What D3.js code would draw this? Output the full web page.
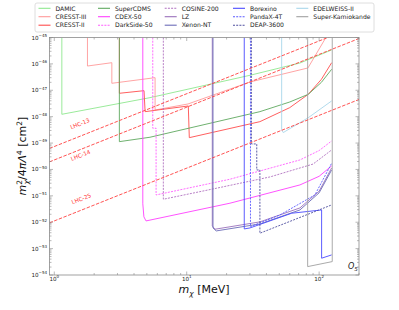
<!DOCTYPE html>
<html><head><meta charset="utf-8">
<script src="https://cdn.jsdelivr.net/npm/d3@7"></script>
<style>body{margin:0;background:#fff}svg{display:block;font-family:"DejaVu Sans",sans-serif}</style>
</head><body>
<svg id="c" width="399" height="310"></svg>
<script>
// ---- data: [mass (MeV), m^2/4piLambda^4 (cm^2)] ----
const DAMIC = [[1.14,1e-45],[1.14,1.23e-48],[5.28,5.25e-48],[30.05,3.70e-47],[71.6,1.08e-46],[124.3,3.37e-46]];
const CRESST_III = [[1.78,1e-45],[1.78,8.3e-47],[2.72,1.11e-46],[2.72,1.84e-47],[5.77,3.0e-47],[5.77,1.79e-48],[10.23,3.03e-48],[30.05,2.06e-47],[82.3,7.0e-47],[112.5,1e-45]];
const CRESST_II = [[3.10,1e-45],[3.10,7.69e-48],[4.76,9.66e-48],[4.85,1.55e-48],[10.28,2.54e-48],[10.46,1.60e-49],[35.7,6.47e-49],[60,2.2e-48],[82.8,7.05e-48],[104,2.6e-47],[124.3,1.11e-46]];
const SuperCDMS = [[3.10,1e-45],[3.10,1.13e-49],[5.28,1.66e-49],[35.7,1.55e-48],[60,3.6e-48],[82.8,7.05e-48],[104,2.0e-47],[124.3,6.24e-47]];
const CDEX_50 = [[4.66,1e-45],[4.66,5e-52],[4.75,1.6e-52],[4.93,1.12e-52],[21.2,5.25e-52],[71.6,2.59e-51],[100,5.5e-51],[124.3,1.36e-50]];
const DarkSide_50 = [[5.54,1e-45],[5.54,3.64e-49],[5.87,3.64e-49],[5.87,1.08e-51],[21.2,4.26e-51],[71.6,2.29e-50],[100,5.2e-50],[124.3,1.20e-49]];
const COSINE_200 = [[6.66,1e-45],[6.66,7.43e-52],[15.44,1.78e-51],[42.5,5.2e-51],[90,1.6e-50],[124.3,5.48e-50]];
const LZ = [[15.6,1e-45],[15.6,7.24e-53],[16.35,5.43e-53],[35.7,1.03e-52],[71.6,3.48e-52],[100,1.5e-51],[124.3,1.14e-50]];
const Xenon_NT = [[15.79,1e-45],[15.79,6.08e-53],[16.7,4.68e-53],[35.7,8.63e-53],[71.6,2.92e-52],[100,1.3e-51],[124.3,9.57e-51]];
const Borexino = [[27.2,1e-45],[27.2,5.57e-53],[30.05,6.08e-53],[62.0,2.19e-52],[104.4,2.92e-52],[104.4,4.33e-54],[124.3,5.77e-54]];
const PandaX_4T = [[30.3,1e-45],[30.3,6.81e-53],[50.6,1.89e-52],[92.9,1.08e-51],[124.3,1.72e-50]];
const DEAP_3600 = [[30.8,1e-45],[30.8,9.25e-50],[33.8,9.25e-50],[33.8,9.57e-51],[35.7,9.57e-51],[35.7,3.83e-53],[124.3,4.52e-52]];
const EDELWEISS_II = [[52.1,1e-45],[52.1,3.2e-49],[53.6,2.5e-49],[82.8,9.16e-49],[124.3,3.94e-48]];
const SuperK = [[81.9,1e-45],[81.9,2.08e-54],[125.6,3.22e-54],[125.6,1e-45]];
const LHC_13 = [[0.92,6.26e-50],[200,2.96e-45]];
const LHC_14 = [[0.92,1.94e-50],[200,9.16e-46]];
const LHC_25 = [[0.92,9.48e-53],[200,4.48e-48]];
const lhcLabels = [["LHC-13",1.58,4.6e-49],["LHC-14",1.60,2.9e-50],["LHC-25",1.62,6.6e-52]];
const xMajor = [1,10,100];
const yMajor = [-54,-53,-52,-51,-50,-49,-48,-47,-46,-45];

const series = [
 {name:"DAMIC",d:DAMIC,c:"#8ee88e",dash:null},
 {name:"CRESST-III",d:CRESST_III,c:"#ff9a9a",dash:null},
 {name:"CRESST-II",d:CRESST_II,c:"#ff4d4d",dash:null},
 {name:"SuperCDMS",d:SuperCDMS,c:"#5fa85f",dash:null},
 {name:"CDEX-50",d:CDEX_50,c:"#ff40ff",dash:null},
 {name:"DarkSide-50",d:DarkSide_50,c:"#ff5cff",dash:"2,1.2"},
 {name:"COSINE-200",d:COSINE_200,c:"#b070c0",dash:"2,1.2"},
 {name:"LZ",d:LZ,c:"#9a70bb",dash:null},
 {name:"Xenon-NT",d:Xenon_NT,c:"#6c6cb8",dash:null},
 {name:"Borexino",d:Borexino,c:"#4a4aff",dash:null},
 {name:"PandaX-4T",d:PandaX_4T,c:"#5a5aff",dash:"2,1.2"},
 {name:"DEAP-3600",d:DEAP_3600,c:"#4e4e9e",dash:"2,1.2"},
 {name:"EDELWEISS-II",d:EDELWEISS_II,c:"#a8d6ea",dash:null},
 {name:"Super-Kamiokande",d:SuperK,c:"#a0a0a0",dash:null}
];

const svg = d3.select("#c");
svg.append("rect").attr("width",399).attr("height",310).attr("fill","#fff");
const L=49.5,R=359,T=37.5,B=275;
const x = d3.scaleLog().domain([0.92,200]).range([L,R]);
const y = d3.scaleLog().domain([1e-54,1e-45]).range([B,T]);

svg.append("clipPath").attr("id","clip").append("rect").attr("x",L).attr("y",T).attr("width",R-L).attr("height",B-T);
const g = svg.append("g").attr("clip-path","url(#clip)");
const line = d3.line().x(d=>x(d[0])).y(d=>y(d[1]));

series.forEach(s=>{
  g.append("path").attr("d",line(s.d)).attr("fill","none").attr("stroke",s.c)
   .attr("stroke-width",0.9).attr("stroke-dasharray",s.dash);
});
[LHC_13,LHC_14,LHC_25].forEach(d=>{
  g.append("path").attr("d",line(d)).attr("fill","none").attr("stroke","#ff4040")
   .attr("stroke-width",0.9).attr("stroke-dasharray","3.5,1.5");
});
const ang = -Math.atan((y(1e-50)-y(1e-48))/(x(10)-x(1)))*180/Math.PI;
lhcLabels.forEach(([t,m,s])=>{
  svg.append("text").attr("transform",`translate(${x(m)},${y(s)}) rotate(${ang})`)
    .attr("text-anchor","middle").attr("font-size",5.6).attr("fill","#ff3030").text(t);
});

// frame
svg.append("rect").attr("x",L).attr("y",T).attr("width",R-L).attr("height",B-T)
  .attr("fill","none").attr("stroke","#8a8a8a").attr("stroke-width",0.8);

// ticks
const tk = svg.append("g").attr("stroke","#8a8a8a").attr("stroke-width",0.6);
const xMinor=[], yMinor=[];
[0.1,1,10,100].forEach(b=>{for(let k=2;k<10;k++){const v=b*k; if(v>=0.92&&v<=200) xMinor.push(v);}});
for(let e=-54;e<-45;e++){for(let k=2;k<10;k++) yMinor.push(k*Math.pow(10,e));}
xMajor.forEach(v=>{tk.append("line").attr("x1",x(v)).attr("x2",x(v)).attr("y1",B).attr("y2",B-3.5);
  tk.append("line").attr("x1",x(v)).attr("x2",x(v)).attr("y1",T).attr("y2",T+3.5);});
xMinor.forEach(v=>{tk.append("line").attr("x1",x(v)).attr("x2",x(v)).attr("y1",B).attr("y2",B-2);
  tk.append("line").attr("x1",x(v)).attr("x2",x(v)).attr("y1",T).attr("y2",T+2);});
yMajor.forEach(e=>{const v=Math.pow(10,e);
  tk.append("line").attr("x1",L).attr("x2",L+3.5).attr("y1",y(v)).attr("y2",y(v));
  tk.append("line").attr("x1",R).attr("x2",R-3.5).attr("y1",y(v)).attr("y2",y(v));});
yMinor.forEach(v=>{
  tk.append("line").attr("x1",L).attr("x2",L+2).attr("y1",y(v)).attr("y2",y(v));
  tk.append("line").attr("x1",R).attr("x2",R-2).attr("y1",y(v)).attr("y2",y(v));});

// tick labels
xMajor.forEach(v=>{
  const t=svg.append("text").attr("x",x(v)).attr("y",281).attr("text-anchor","middle").attr("font-size",5.6).attr("fill","#222");
  t.append("tspan").text("10");
  t.append("tspan").attr("dy",-2.6).attr("font-size",4).text(String(Math.round(Math.log10(v))));
});
yMajor.forEach(e=>{
  const t=svg.append("text").attr("x",47).attr("y",y(Math.pow(10,e))+2).attr("text-anchor","end").attr("font-size",5.6).attr("fill","#222");
  t.append("tspan").text("10");
  t.append("tspan").attr("dy",-2.6).attr("font-size",4).text("\u2212"+(-e));
});

// axis labels
const xl = svg.append("text").attr("x",204).attr("y",293).attr("text-anchor","middle").attr("font-size",11).attr("fill","#111");
xl.append("tspan").attr("font-style","italic").text("m");
xl.append("tspan").attr("dy",2.5).attr("font-size",7.5).attr("font-style","italic").text("\u03c7");
xl.append("tspan").attr("dy",-2.5).text(" [MeV]");

const yl = svg.append("text").attr("transform","translate(26,156) rotate(-90)").attr("text-anchor","middle").attr("font-size",11).attr("fill","#111");
yl.append("tspan").attr("font-style","italic").text("m");
yl.append("tspan").attr("dy",-4).attr("font-size",7.5).text("2");
yl.append("tspan").attr("dx",-4.5).attr("dy",6.5).attr("font-size",7.5).attr("font-style","italic").text("\u03c7");
yl.append("tspan").attr("dy",-2.5).text("/4");
yl.append("tspan").attr("font-style","italic").text("\u03c0\u039b");
yl.append("tspan").attr("dy",-4).attr("font-size",7.5).text("4");
yl.append("tspan").attr("dy",4).text(" [cm");
yl.append("tspan").attr("dy",-4).attr("font-size",7.5).text("2");
yl.append("tspan").attr("dy",4).text("]");

// O5 annotation
const oa = svg.append("text").attr("x",348).attr("y",269).attr("font-size",8).attr("fill","#222").attr("font-style","italic");
oa.append("tspan").text("O");
oa.append("tspan").attr("dy",1.8).attr("font-size",5.5).text("5");

// legend
const lg = svg.append("g");
lg.append("rect").attr("x",35).attr("y",3).attr("width",339).attr("height",29).attr("rx",2)
  .attr("fill","#fff").attr("stroke","#d6d6d6").attr("stroke-width",0.8);
const colX=[55.5,115,181.7,250,313.3], rowY=[8.3,16.7,25.2];
series.forEach((s,i)=>{
  const c=Math.floor(i/3), r=i%3, tx=colX[c], ty=rowY[r];
  lg.append("line").attr("x1",tx-17).attr("x2",tx-5).attr("y1",ty).attr("y2",ty)
    .attr("stroke",s.c).attr("stroke-width",1.1).attr("stroke-dasharray",s.dash);
  lg.append("text").attr("x",tx).attr("y",ty+2.2).attr("font-size",6.1).attr("fill","#222").text(s.name);
});
</script>
</body></html>
